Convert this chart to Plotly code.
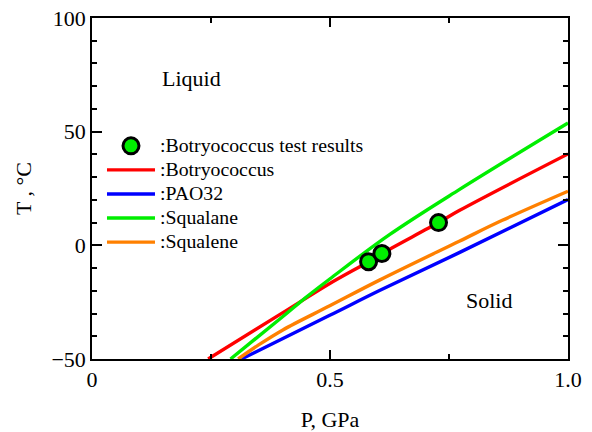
import plotly.graph_objects as go

# Test results
test_p = [0.581, 0.609, 0.728]
test_t = [-7.2, -3.6, 10.0]

# Model curves (P in GPa, T in °C)
botry_p = [0.244, 0.401, 0.4995, 0.581, 0.609, 0.728, 0.7715, 1.0]
botry_t = [-50.0, -29.6, -16.8, -7.2, -3.6, 10.0, 15.3, 40.2]

pao_p = [0.314, 0.4995, 0.604, 0.7715, 1.0]
pao_t = [-50.0, -30.8, -19.9, -3.2, 20.1]

squalane_p = [0.291, 0.401, 0.447, 0.4995, 0.625, 0.7715, 1.0]
squalane_t = [-50.0, -31.3, -23.3, -14.8, 4.7, 24.5, 53.8]

squalene_p = [0.307, 0.35, 0.401, 0.4995, 0.604, 0.7715, 0.862, 1.0]
squalene_t = [-50.0, -43.8, -37.2, -26.6, -15.3, 1.8, 11.0, 23.8]

x_tickvals = [0, 0.5, 1.0]
x_ticktext = ["0", "0.5", "1.0"]
y_tickvals = [-50, 0, 50, 100]

FONT = "Liberation Serif, Times New Roman, serif"


def lg(name):
    return '<span style="font-size:19.8px">' + name + '</span>'


fig = go.Figure()
fig.add_trace(go.Scatter(x=botry_p, y=botry_t, mode="lines", name=lg(":Botryococcus"),
                         legendrank=2,
                         line=dict(color="#ff0000", width=3.4, shape="spline")))
fig.add_trace(go.Scatter(x=pao_p, y=pao_t, mode="lines", name=lg(":PAO32"),
                         legendrank=3,
                         line=dict(color="#0000ff", width=3.4, shape="spline")))
fig.add_trace(go.Scatter(x=squalane_p, y=squalane_t, mode="lines", name=lg(":Squalane"),
                         legendrank=4,
                         line=dict(color="#00ee00", width=3.4, shape="spline")))
fig.add_trace(go.Scatter(x=squalene_p, y=squalene_t, mode="lines", name=lg(":Squalene"),
                         legendrank=5,
                         line=dict(color="#ff8000", width=3.4, shape="spline")))
fig.add_trace(go.Scatter(x=test_p, y=test_t, mode="markers",
                         name=lg(":Botryococcus test results"), legendrank=1,
                         marker=dict(size=16, color="#00ee00",
                                     line=dict(color="black", width=3))))

fig.update_layout(
    width=592, height=432,
    margin=dict(l=92, r=24, t=18, b=73, autoexpand=False),
    paper_bgcolor="white", plot_bgcolor="white",
    font=dict(family=FONT, size=22, color="black"),
    showlegend=True,
    legend=dict(x=0.021, y=0.675, xanchor="left", yanchor="top",
                font=dict(family=FONT, size=16.2, color="black"),
                bgcolor="rgba(0,0,0,0)", traceorder="normal",
                itemwidth=48),
    annotations=[
        dict(x=0.208, y=73.3, xref="x", yref="y", text="Liquid", showarrow=False,
             font=dict(family=FONT, size=22)),
        dict(x=0.835, y=-24.2, xref="x", yref="y", text="Solid", showarrow=False,
             font=dict(family=FONT, size=22)),
    ],
)

fig.update_xaxes(range=[0, 1.0], tickvals=x_tickvals, ticktext=x_ticktext,
                 ticks="inside", ticklen=9, tickwidth=1.5, tickcolor="black",
                 showline=True, linecolor="black", linewidth=1.5, mirror="allticks",
                 showgrid=False, zeroline=False, automargin=False,
                 minor=dict(dtick=0.25, tick0=0, ticks="inside", ticklen=5,
                            tickcolor="black", tickwidth=1.5, showgrid=False),
                 title=dict(text="P, GPa", standoff=30,
                            font=dict(family=FONT, size=22)),
                 tickfont=dict(family=FONT, size=22))
fig.update_yaxes(range=[-50, 100], tickvals=y_tickvals,
                 ticks="inside", ticklen=10, tickwidth=1.5, tickcolor="black",
                 showline=True, linecolor="black", linewidth=1.5, mirror="allticks",
                 showgrid=False, zeroline=False, automargin=False,
                 minor=dict(dtick=10, tick0=0, ticks="inside", ticklen=5,
                            tickcolor="black", tickwidth=1.5, showgrid=False),
                 title=dict(text="T , °C", standoff=14,
                            font=dict(family=FONT, size=22)),
                 tickfont=dict(family=FONT, size=22))

fig.write_html("out.html")
